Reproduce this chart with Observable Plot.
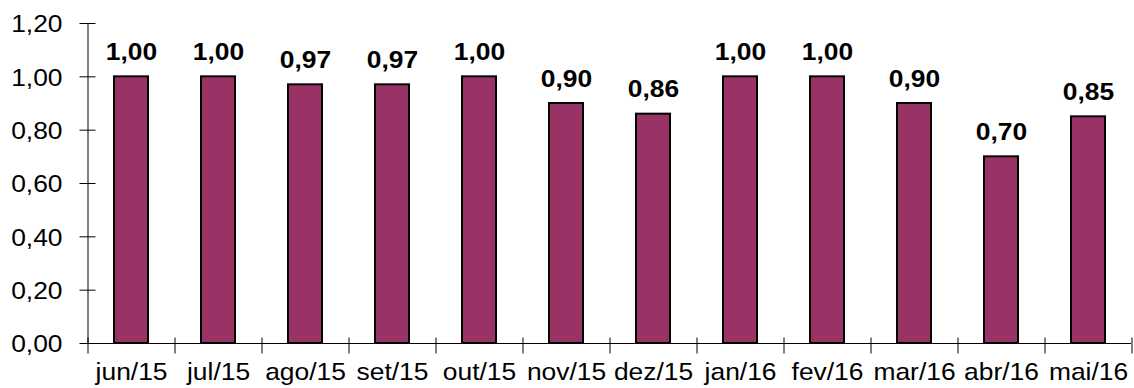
<!DOCTYPE html>
<html><head><meta charset="utf-8">
<script src="https://cdn.jsdelivr.net/npm/d3@7"></script>
<script src="https://cdn.jsdelivr.net/npm/@observablehq/plot@0.6"></script>
<style>html,body{margin:0;padding:0;background:#fff} svg{display:block}</style>
</head><body><div id="chart"></div>
<script>
const categories = ["jun/15","jul/15","ago/15","set/15","out/15","nov/15","dez/15","jan/16","fev/16","mar/16","abr/16","mai/16"];
const values = [1.00,1.00,0.97,0.97,1.00,0.90,0.86,1.00,1.00,0.90,0.70,0.85];
const yTicks = [0,0.2,0.4,0.6,0.8,1.0,1.2];

const data = categories.map((c,i)=>({cat:c, val:values[i]}));
const fmt = d => d.toFixed(2).replace(".", ",");
const hline = {draw(ctx){ctx.moveTo(-8,0);ctx.lineTo(8,0);}};
const vline = {draw(ctx){ctx.moveTo(0,-6);ctx.lineTo(0,10);}};
const W=1134, H=388, ml=87, mr=3, step=(W-ml-mr)/categories.length;

const chart = Plot.plot({
  width:W, height:H, marginLeft:ml, marginRight:mr, marginTop:23, marginBottom:45,
  style:{fontFamily:"'Liberation Sans', Arial, sans-serif", fontSize:"24px", color:"black", background:"white"},
  x:{domain:categories, paddingInner:0.61, paddingOuter:0.305, axis:null},
  y:{domain:[0,1.2], axis:null},
  marks:[
    Plot.barY(data,{x:"cat", y:"val", fill:"#993366", stroke:"black", strokeWidth:2}),
    Plot.ruleY([0],{stroke:"black"}),
    Plot.ruleX([categories[0]],{x:d=>d, dx:-step/2, y1:0, y2:1.2, stroke:"black"}),
    Plot.dot(yTicks,{y:d=>d, frameAnchor:"left", symbol:hline, stroke:"black", fill:"none", strokeWidth:1}),
    Plot.dot(categories,{x:d=>d, frameAnchor:"bottom", dx:-step/2, symbol:vline, stroke:"black", fill:"none", strokeWidth:1}),
    Plot.dot([categories[categories.length-1]],{x:d=>d, frameAnchor:"bottom", dx:step/2, symbol:vline, stroke:"black", fill:"none", strokeWidth:1}),
    Plot.text(yTicks,{y:d=>d, frameAnchor:"left", text:fmt, textAnchor:"end", dx:-25, dy:1, lineAnchor:"middle"}),
    Plot.text(categories,{x:d=>d, frameAnchor:"bottom", text:d=>d, lineAnchor:"bottom", dy:36}),
    Plot.text(data,{x:"cat", y:"val", text:d=>fmt(d.val), fontWeight:"bold", lineAnchor:"bottom", dy:-17})
  ]
});
document.getElementById("chart").append(chart);

const S = 1.1;
chart.querySelectorAll("text").forEach(t => {
  const r = t.getBoundingClientRect();
  const anchor = getComputedStyle(t).textAnchor;
  const sx = anchor==="end" ? r.right : anchor==="middle" ? (r.left+r.right)/2 : r.left;
  const parent = t.parentNode;
  const p = new DOMPoint(sx, 0).matrixTransform(parent.getScreenCTM().inverse());
  const g = document.createElementNS("http://www.w3.org/2000/svg","g");
  g.setAttribute("transform", `translate(${p.x},0) scale(${S},1) translate(${-p.x},0)`);
  parent.insertBefore(g, t); g.appendChild(t);
});
</script></body></html>
